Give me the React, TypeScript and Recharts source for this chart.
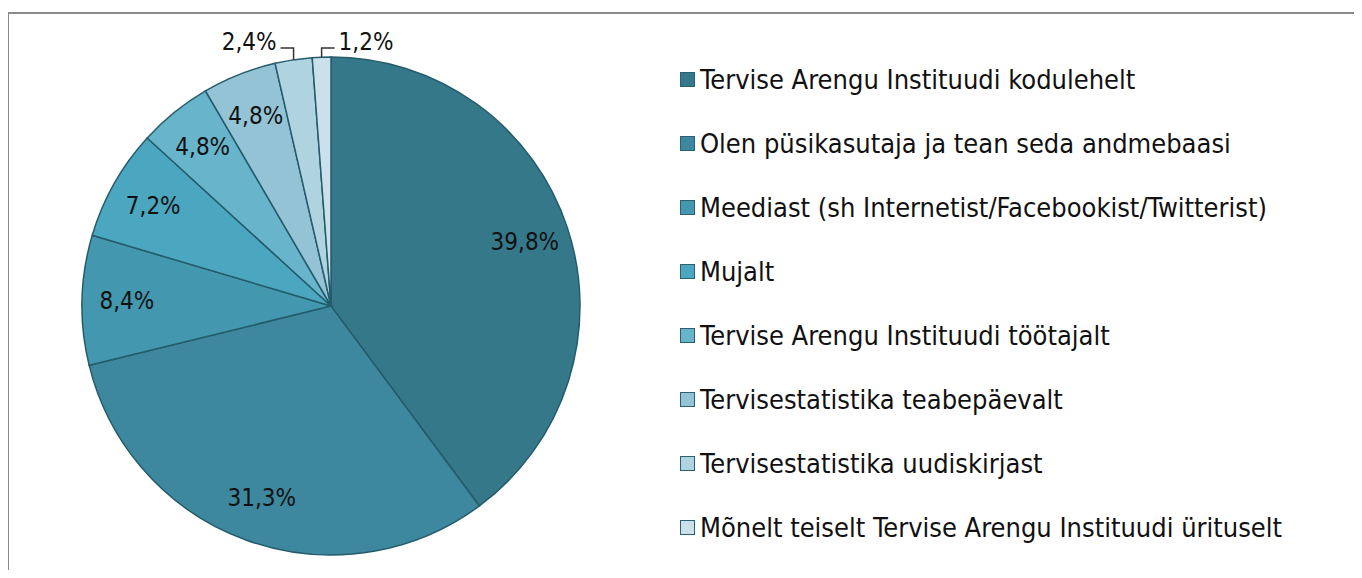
import { Cell, Legend, Pie, PieChart } from "recharts";

const sources = [
  "Tervise Arengu Instituudi kodulehelt",
  "Olen püsikasutaja ja tean seda andmebaasi",
  "Meediast (sh Internetist/Facebookist/Twitterist)",
  "Mujalt",
  "Tervise Arengu Instituudi töötajalt",
  "Tervisestatistika teabepäevalt",
  "Tervisestatistika uudiskirjast",
  "Mõnelt teiselt Tervise Arengu Instituudi ürituselt",
];

const shares = [39.8, 31.3, 8.4, 7.2, 4.8, 4.8, 2.4, 1.2];

const COLORS = ["#35788a", "#3d889e", "#4398af", "#4ba6bf", "#67b4cb", "#93c3d5", "#b0d3e0", "#cae0ea"];
const SLICE_STROKE = "#255c6c";
const FONT = "'DejaVu Sans Condensed', 'DejaVu Sans', sans-serif";
const RAD = Math.PI / 180;

const data = sources.map((name, i) => ({ name, value: shares[i] }));

function fmt(v: number): string {
  return `${v.toFixed(1).replace(".", ",")}%`;
}

// väikesed sektorid saavad väliskirje koos juhtjoonega
function renderLabel(props: any) {
  const { cx, cy, midAngle, outerRadius, value, index } = props;
  const cos = Math.cos(-midAngle * RAD);
  const sin = Math.sin(-midAngle * RAD);
  if (value >= 3) {
    const r = outerRadius * 0.82;
    return (
      <text
        x={cx + r * cos}
        y={cy + r * sin}
        textAnchor="middle"
        dominantBaseline="central"
        fill="#111"
        fontFamily={FONT}
        fontSize={24}
      >
        {fmt(value)}
      </text>
    );
  }
  const ex = cx + outerRadius * cos;
  const ey = cy + outerRadius * sin;
  const elbowY = cy - outerRadius - 9;
  const dir = index === sources.length - 1 ? 1 : -1;
  const endX = ex + dir * 13;
  return (
    <g>
      <path d={`M${ex},${ey} L${ex},${elbowY} L${endX},${elbowY}`} stroke="#333" strokeWidth={1.5} fill="none" />
      <text
        x={endX + dir * 4}
        y={elbowY - 6}
        textAnchor={dir > 0 ? "start" : "end"}
        dominantBaseline="central"
        fill="#111"
        fontFamily={FONT}
        fontSize={24}
      >
        {fmt(value)}
      </text>
    </g>
  );
}

function LegendList(props: any) {
  const payload: any[] = props.payload ? [...props.payload] : [];
  payload.sort((a, b) => sources.indexOf(a.value) - sources.indexOf(b.value));
  return (
    <div style={{ fontFamily: FONT, fontSize: 27, color: "#111" }}>
      {payload.map((p, i) => (
        <div key={i} style={{ display: "flex", alignItems: "center", height: 64, whiteSpace: "nowrap" }}>
          <span
            style={{
              display: "inline-block",
              width: 13,
              height: 13,
              background: p.color,
              border: "1.5px solid #2b6170",
              marginRight: 5,
              flex: "none",
            }}
          />
          <span>{p.value}</span>
        </div>
      ))}
    </div>
  );
}

export default function App() {
  return (
    <div style={{ position: "relative", width: 1362, height: 578, margin: -8, background: "#fff", overflow: "hidden" }}>
      <div
        style={{
          position: "absolute",
          left: 7,
          top: 12,
          width: 1400,
          height: 600,
          borderTop: "2px solid #8a8a8a",
          borderLeft: "2px solid #8a8a8a",
        }}
      />
      <div style={{ position: "absolute", left: 0, top: 0 }}>
        <PieChart width={1362} height={578} margin={{ top: 0, right: 0, bottom: 0, left: 0 }}>
          <Pie
            data={data}
            dataKey="value"
            nameKey="name"
            cx={331}
            cy={306}
            outerRadius={249}
            startAngle={90}
            endAngle={-270}
            stroke={SLICE_STROKE}
            strokeWidth={1.5}
            label={renderLabel}
            labelLine={false}
            isAnimationActive={false}
          >
            {data.map((d, i) => (
              <Cell key={d.name} fill={COLORS[i]} />
            ))}
          </Pie>
          <Legend
            layout="vertical"
            content={LegendList}
            wrapperStyle={{ left: 680, top: 47, width: 675 }}
          />
        </PieChart>
      </div>
    </div>
  );
}
